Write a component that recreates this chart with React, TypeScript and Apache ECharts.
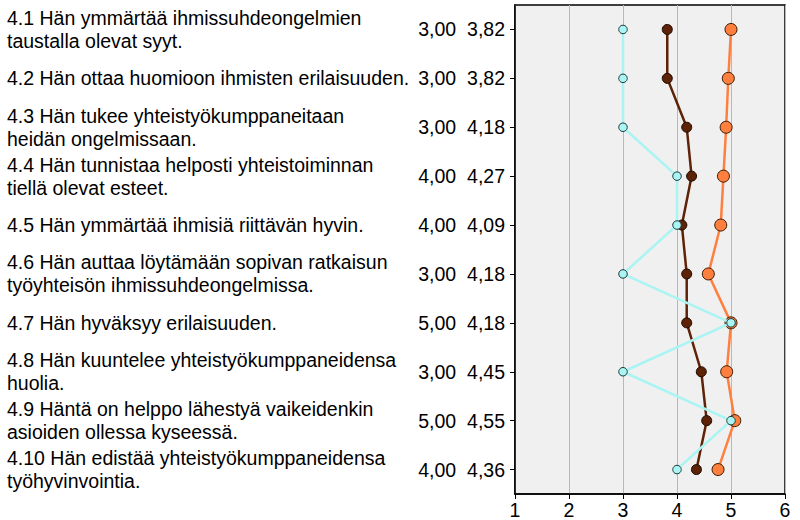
import React, { useEffect, useRef } from "react";
import * as echarts from "echarts";

const questions = [
  "4.1 Hän ymmärtää ihmissuhdeongelmien\ntaustalla olevat syyt.",
  "4.2 Hän ottaa huomioon ihmisten erilaisuuden.",
  "4.3 Hän tukee yhteistyökumppaneitaan\nheidän ongelmissaan.",
  "4.4 Hän tunnistaa helposti yhteistoiminnan\ntiellä olevat esteet.",
  "4.5 Hän ymmärtää ihmisiä riittävän hyvin.",
  "4.6 Hän auttaa löytämään sopivan ratkaisun\ntyöyhteisön ihmissuhdeongelmissa.",
  "4.7 Hän hyväksyy erilaisuuden.",
  "4.8 Hän kuuntelee yhteistyökumppaneidensa\nhuolia.",
  "4.9 Häntä on helppo lähestyä vaikeidenkin\nasioiden ollessa kyseessä.",
  "4.10 Hän edistää yhteistyökumppaneidensa\ntyöhyvinvointia.",
];

const selfValues = [3, 3, 3, 4, 4, 3, 5, 3, 5, 4];
const groupValues = [3.82, 3.82, 4.18, 4.27, 4.09, 4.18, 4.18, 4.45, 4.55, 4.36];
const otherValues = [5.0, 4.95, 4.91, 4.86, 4.81, 4.58, 5.0, 4.92, 5.07, 4.76];

const xTicks = [1, 2, 3, 4, 5, 6];

const FONT = "'Liberation Sans', Arial, sans-serif";
const FS = 19.5;

const fmt = (v: number) => v.toFixed(2).replace(".", ",");

export default function App() {
  const ref = useRef<HTMLDivElement>(null);
  useEffect(() => {
    if (!ref.current) return;
    const chart = echarts.init(ref.current, undefined, { renderer: "svg" });
    const idx = questions.map((_, i) => String(i));
    chart.setOption({
      animation: false,
      backgroundColor: "#ffffff",
      textStyle: { fontFamily: FONT },
      grid: {
        left: 515,
        right: 15,
        top: 5,
        bottom: 25,
        show: true,
        backgroundColor: "#f0f0f0",
        borderColor: "#000000",
        borderWidth: 1.5,
      },
      xAxis: {
        type: "value",
        min: xTicks[0],
        max: xTicks[xTicks.length - 1],
        interval: 1,
        axisLine: { show: true, lineStyle: { color: "#000", width: 1.5 } },
        axisTick: { show: true, length: 5, lineStyle: { color: "#000" } },
        axisLabel: { color: "#000", fontSize: FS, fontFamily: FONT, margin: 6 },
        splitLine: { show: true, lineStyle: { color: "#b8b8b8", width: 1 } },
      },
      yAxis: [
        {
          type: "category",
          data: idx,
          inverse: true,
          position: "left",
          axisLine: { show: true, lineStyle: { color: "#000", width: 1.5 } },
          axisTick: { show: true, alignWithLabel: true, length: 5, lineStyle: { color: "#000" } },
          axisLabel: {
            color: "#000",
            fontSize: FS,
            fontFamily: FONT,
            margin: 10,
            formatter: (_v: string, i: number) => fmt(selfValues[i]) + "  " + fmt(groupValues[i]),
          },
          splitLine: { show: false },
        },
        {
          type: "category",
          data: idx,
          inverse: true,
          position: "left",
          axisLine: { show: false },
          axisTick: { show: false },
          axisLabel: {
            color: "#000",
            fontSize: FS,
            fontFamily: FONT,
            margin: 508,
            align: "left",
            lineHeight: 23,
            formatter: (_v: string, i: number) => questions[i],
          },
          splitLine: { show: false },
        },
      ],
      series: [
        {
          type: "line",
          data: otherValues.map((v, i) => [v, idx[i]]),
          yAxisIndex: 0,
          symbol: "circle",
          symbolSize: 12,
          z: 2,
          lineStyle: { color: "#ff7f3f", width: 2.5 },
          itemStyle: { color: "#ff7f3f", borderColor: "#3a1a00", borderWidth: 1 },
        },
        {
          type: "line",
          data: groupValues.map((v, i) => [v, idx[i]]),
          yAxisIndex: 0,
          symbol: "circle",
          symbolSize: 10,
          z: 3,
          lineStyle: { color: "#5e2306", width: 2.5 },
          itemStyle: { color: "#5e2306", borderColor: "#1a0800", borderWidth: 1 },
        },
        {
          type: "line",
          data: selfValues.map((v, i) => [v, idx[i]]),
          yAxisIndex: 0,
          symbol: "circle",
          symbolSize: 8.5,
          z: 4,
          lineStyle: { color: "#aaf4f4", width: 2.5 },
          itemStyle: { color: "#aaf4f4", borderColor: "#1a3a3a", borderWidth: 1 },
        },
      ],
    });
    return () => chart.dispose();
  }, []);
  return (
    <div
      ref={ref}
      style={{ position: "fixed", left: 0, top: 0, width: 800, height: 520, background: "#fff" }}
    />
  );
}
